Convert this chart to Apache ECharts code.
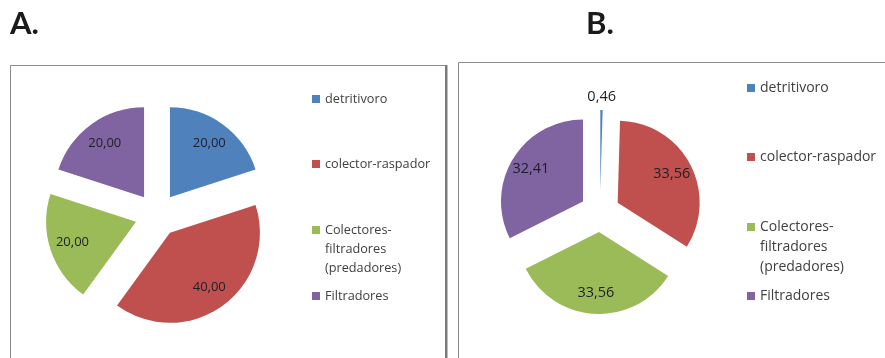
<!DOCTYPE html>
<html>
<head>
<meta charset="utf-8">
<script src="https://cdn.jsdelivr.net/npm/echarts@6/dist/echarts.min.js"></script>
<style>
  html, body { margin: 0; padding: 0; background: #ffffff; }
  #chart { width: 885px; height: 358px; }
</style>
</head>
<body>
<div id="chart"></div>
<script>
// Feeding groups and their shares (%) in the two samples
const categories = ['detritivoro', 'colector-raspador', 'Colectores-\nfiltradores\n(predadores)', 'Filtradores'];
const valuesA = [20.00, 40.00, 20.00, 20.00];
const valuesB = [0.46, 33.56, 33.56, 32.41];
const panelTitles = ['A.', 'B.'];
const palette = ['#4F81BD', '#C0504D', '#9BBB59', '#8064A2'];

const FONT = '"Open Sans", "Noto Sans", sans-serif';
const fmt = v => v.toFixed(2).replace('.', ',');

const chart = echarts.init(document.getElementById('chart'), null, { renderer: 'canvas' });

// Exploded pie: every slice is "selected" so it is pushed out from the centre
function slicePie(values, center, r, offset) {
  return {
    type: 'pie',
    center: center,
    radius: [0, r],
    startAngle: 90,
    clockwise: true,
    selectedMode: 'multiple',
    selectedOffset: offset,
    avoidLabelOverlap: false,
    silent: true,
    emphasis: { disabled: true },
    select: { itemStyle: { borderWidth: 0 } },
    label: { show: false },
    labelLine: { show: false },
    itemStyle: { borderWidth: 0 },
    data: values.map((v, i) => ({
      name: categories[i], value: v, selected: true,
      itemStyle: { color: palette[i] }
    }))
  };
}

// Transparent twin ring that carries the value labels at ~0.7 of the radius
function labelPie(values, center, r, offset, fontSize) {
  const total = values.reduce((a, b) => a + b, 0);
  return {
    type: 'pie',
    center: center,
    radius: [r * 0.42, r],
    startAngle: 90,
    clockwise: true,
    selectedMode: 'multiple',
    selectedOffset: offset,
    avoidLabelOverlap: false,
    silent: true,
    legendHoverLink: false,
    emphasis: { disabled: true },
    select: { itemStyle: { color: 'rgba(0,0,0,0)', borderWidth: 0 } },
    itemStyle: { color: 'rgba(0,0,0,0)', borderWidth: 0 },
    labelLayout: { align: 'center' },
    label: {
      show: true,
      position: 'inside',
      color: '#1e1e28',
      fontFamily: FONT,
      fontSize: fontSize,
      formatter: p => fmt(p.value)
    },
    labelLine: { show: false, length: 13, length2: 0 },
    data: values.map((v, i) => {
      const item = { name: categories[i], value: v, selected: true };
      // a sliver too thin to hold its label gets it above the rim
      if (v / total < 0.02) {
        item.label = { position: 'outside', distanceToLabelLine: 0 };
        item.labelLine = { show: false, length: 13, length2: 0 };
      }
      return item;
    })
  };
}

// One legend per entry so the entries sit at evenly spaced rows;
// a wrapped entry keeps its marker beside the first line
function legendColumn(left, rowCenters, fontSize, lineHeight) {
  return categories.map((name, i) => {
    const lines = name.split('\n').length;
    return {
      data: [name],
      orient: 'vertical',
      left: left,
      top: rowCenters[i] - (lines - 0.5) * lineHeight,
      padding: 0,
      itemWidth: 8,
      itemHeight: 8,
      icon: 'rect',
      selectedMode: false,
      formatter: n => '\n'.repeat(lines - 1) + n,
      textStyle: {
        fontFamily: FONT,
        fontSize: fontSize,
        lineHeight: lineHeight,
        color: '#404040'
      }
    };
  });
}

const option = {
  backgroundColor: '#ffffff',
  animation: false,
  color: palette,
  legend: [
    ...legendColumn(312, [99, 164, 230, 296], 12.7, 19),
    ...legendColumn(747, [88, 157, 227, 296], 14, 20)
  ],
  graphic: [
    { type: 'rect', silent: true, z: -1,
      shape: { x: 10.5, y: 65.5, width: 435, height: 400 },
      style: { fill: 'none', stroke: '#8c8c8c', lineWidth: 1 } },
    { type: 'rect', silent: true, z: -1,
      shape: { x: 445, y: 65, width: 2.5, height: 400 },
      style: { fill: '#7a7a7a' } },
    { type: 'rect', silent: true, z: -1,
      shape: { x: 458.5, y: 62.5, width: 500, height: 400 },
      style: { fill: 'none', stroke: '#8c8c8c', lineWidth: 1 } },
    { type: 'text', silent: true, left: 10, top: 8,
      style: { text: panelTitles[0], font: 'bold 31px Lato, "Open Sans", sans-serif', fill: '#1a1a1a' } },
    { type: 'text', silent: true, left: 586, top: 8,
      style: { text: panelTitles[1], font: 'bold 31px Lato, "Open Sans", sans-serif', fill: '#1a1a1a' } }
  ],
  series: [
    slicePie(valuesA, [157, 215], 90, 22),
    slicePie(valuesB, [600, 212], 82, 20),
    labelPie(valuesA, [157, 215], 90, 22, 13),
    labelPie(valuesB, [600, 212], 82, 20, 14.5)
  ]
};

chart.setOption(option);
</script>
</body>
</html>
